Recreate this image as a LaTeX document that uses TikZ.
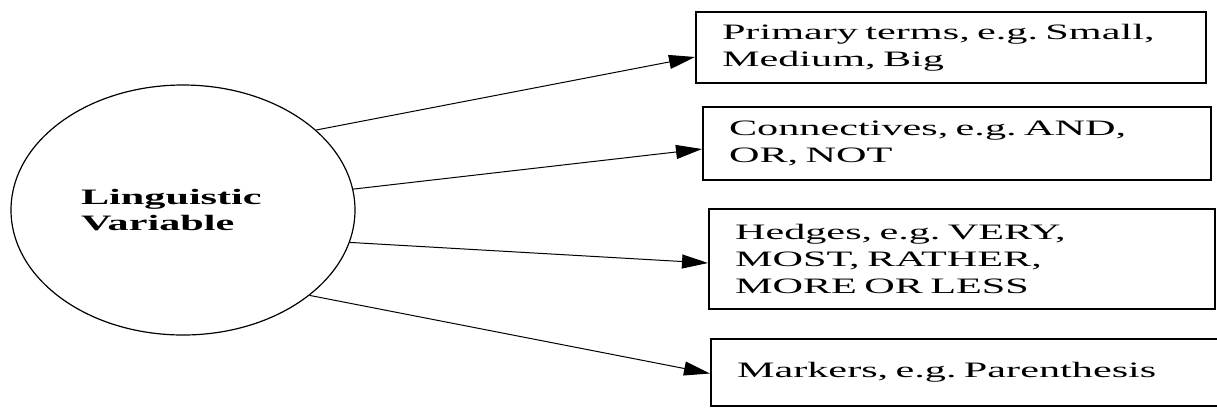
\documentclass[tikz,border=0pt]{standalone}
\usepackage{fontspec}
\setmainfont{Liberation Serif}[FakeStretch=1.92]
\frenchspacing
\usetikzlibrary{shapes.geometric,arrows.meta}

\begin{document}
\begin{tikzpicture}[x=0.5pt,y=-0.5pt,>={Triangle[length=13pt,width=7pt]},
    font=\fontsize{11pt}{13.6pt}\selectfont,
    var/.style={draw,ellipse,line width=0.6pt,minimum width=172pt,minimum height=125pt,inner sep=0pt,
        text width=102pt,align=left,font=\fontsize{11pt}{13pt}\selectfont\bfseries},
    term/.style={draw,rectangle,line width=1pt,inner xsep=13pt,inner ysep=0pt,align=left},
    link/.style={->,line width=0.5pt}]
    \useasboundingbox (0,0) rectangle (1217,409);

    \node[var] (lv) at (183,210) {Linguistic\\Variable};

    \node[term,text width=229pt,minimum height=35.5pt] (prim) at (951,47.5) {Primary terms, e.g. Small,\\Medium, Big};
    \node[term,text width=228pt,minimum height=36.5pt] (conn) at (957,143.5) {Connectives, e.g. AND,\\OR, NOT};
    \node[term,text width=227pt,minimum height=50pt] (hedg) at (962,259) {Hedges, e.g. VERY,\\MOST, RATHER,\\MORE OR LESS};
    \node[term,text width=233pt,minimum height=33.5pt] (mark) at (970,372.5) {Markers, e.g. Parenthesis};

    \draw[link] (lv.31) -- ([yshift=-4.75pt]prim.west);
    \draw[link] (lv.7) -- ([yshift=-2.75pt]conn.west);
    \draw[link] (lv.-11) -- ([yshift=-2pt]hedg.west);
    \draw[link] (lv.-34) -- ([yshift=-0.5pt]mark.west);
\end{tikzpicture}
\end{document}
